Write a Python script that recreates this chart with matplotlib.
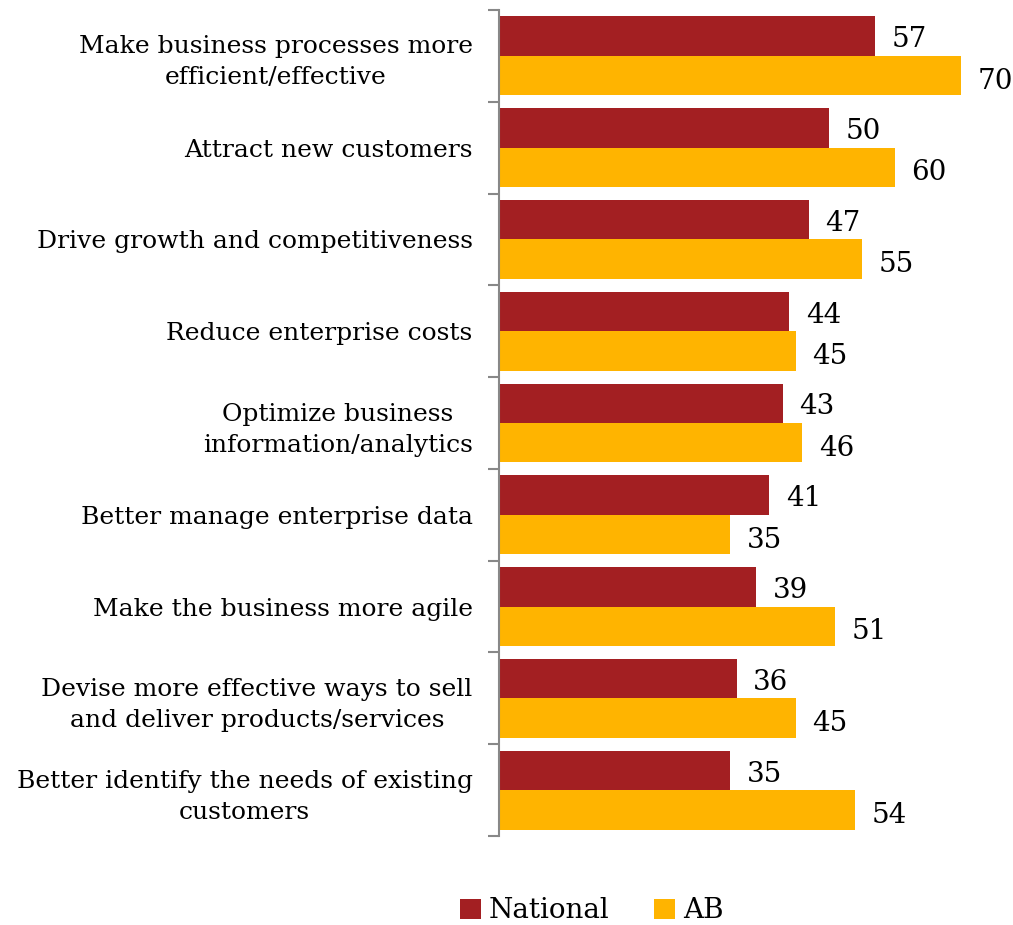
import matplotlib
matplotlib.use("Agg")
import matplotlib.pyplot as plt
import numpy as np

categories = [
    "Make business processes more\nefficient/effective",
    "Attract new customers",
    "Drive growth and competitiveness",
    "Reduce enterprise costs",
    "Optimize business\ninformation/analytics",
    "Better manage enterprise data",
    "Make the business more agile",
    "Devise more effective ways to sell\nand deliver products/services",
    "Better identify the needs of existing\ncustomers",
]
national = [57, 50, 47, 44, 43, 41, 39, 36, 35]
ab = [70, 60, 55, 45, 46, 35, 51, 45, 54]
series_names = ["National", "AB"]
colors = ["#A31F22", "#FFB400"]

plt.rcParams['font.family'] = ['DejaVu Serif']

W, H = 1013, 925
fig = plt.figure(figsize=(W / 100, H / 100), dpi=100)
ax = fig.add_axes([499 / W, 1 - 836 / H, (1007 - 499) / W, (836 - 10) / H])

n = len(categories)
y = np.arange(n)
bh = 0.43
ax.barh(y - bh / 2, national, height=bh, color=colors[0], label=series_names[0])
ax.barh(y + bh / 2, ab, height=bh, color=colors[1], label=series_names[1])

fs = 18
for i in range(n):
    ax.text(national[i] + 2.5, y[i] - bh / 2 + 0.04, str(national[i]), va='center', ha='left', fontsize=20)
    ax.text(ab[i] + 2.5, y[i] + bh / 2 + 0.06, str(ab[i]), va='center', ha='left', fontsize=20)

ax.set_ylim(n - 0.5, -0.5)
ax.set_xlim(0, 77)
ax.set_yticks(y)
ax.set_yticklabels(categories, fontsize=fs, ha='right', multialignment='center', linespacing=1.45)
ax.tick_params(axis='y', which='major', length=0, pad=19)
ax.set_yticks(np.arange(n + 1) - 0.5, minor=True)
ax.tick_params(axis='y', which='minor', length=8, color='#888888', width=1.5)
ax.set_xticks([])
for s in ['top', 'right', 'bottom']:
    ax.spines[s].set_visible(False)
ax.spines['left'].set_color('#888888')
ax.spines['left'].set_linewidth(1.5)

fig.legend(loc='center', bbox_to_anchor=(592 / W, 1 - 911 / H), ncol=2, frameon=False,
           fontsize=20, handlelength=0.75, handleheight=0.75, handletextpad=0.3, columnspacing=1.6)

fig.savefig("out.png", dpi=100)
